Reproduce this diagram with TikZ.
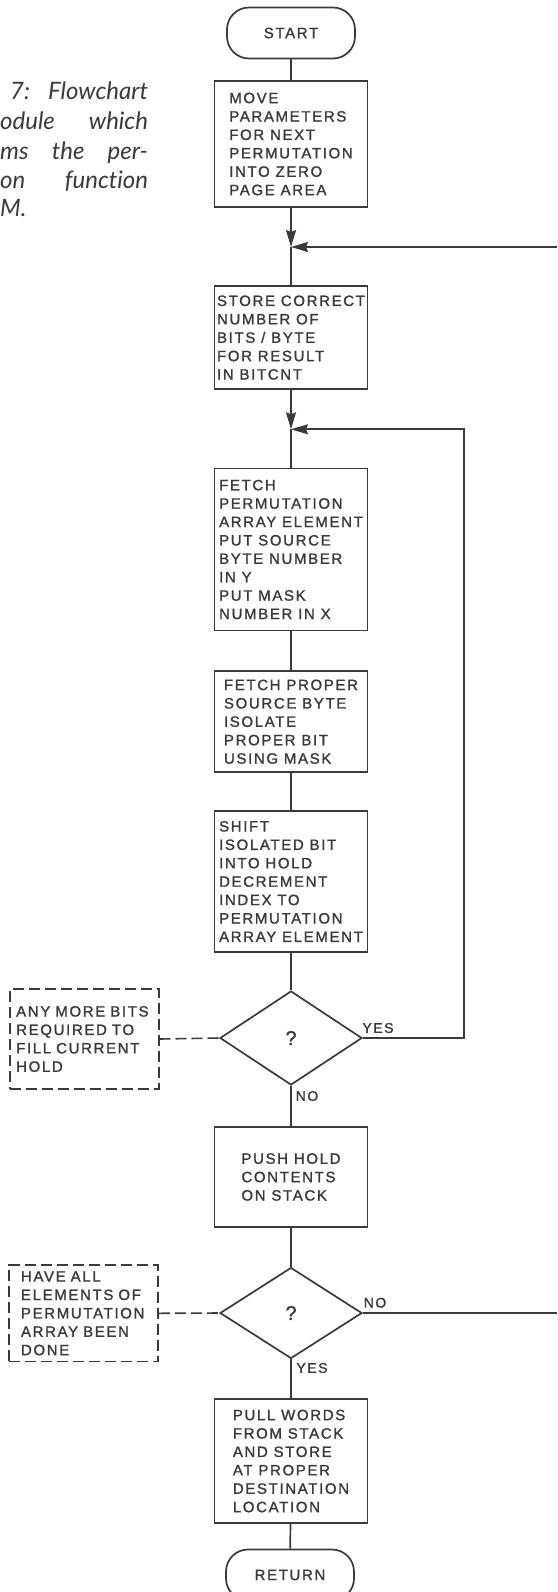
\documentclass[tikz,border=0pt]{standalone}
\usepackage{fontspec}
\newfontfamily\boxfont[LetterSpace=11,FakeBold=1.3]{Liberation Sans}
\newfontfamily\capfont[Ligatures=NoCommon]{Lato}
\usetikzlibrary{arrows.meta,shapes.geometric}
\definecolor{ink}{RGB}{58,58,58}
\begin{document}
\begin{tikzpicture}[x=1pt,y=-1pt,
  flow/.style={draw=ink,line width=1.7pt},
  arr/.style={flow,-{Stealth[length=17pt,width=10pt,inset=2pt]}},
  txt/.style={text=ink,font=\boxfont\fontsize{15}{18.4}\selectfont},
  proc/.style={txt,draw=ink,line width=1.7pt,minimum width=153pt,inner sep=0pt,align=left},
  term/.style={txt,draw=ink,line width=1.7pt,rounded corners=22pt,minimum width=128pt,minimum height=51pt,inner sep=0pt},
  dec/.style={txt,font=\boxfont\fontsize{20}{22}\selectfont,diamond,draw=ink,line width=1.7pt,minimum width=142pt,minimum height=93pt,inner sep=0pt},
  note/.style={txt,draw=ink,line width=1.6pt,dash pattern=on 11pt off 5pt,align=left,inner ysep=0pt},
  lbl/.style={txt,font=\boxfont\fontsize{14}{16}\selectfont,inner sep=0pt},
  captxt/.style={text=ink,font=\capfont\itshape\fontsize{24}{29}\selectfont,inner sep=0pt}
]
\useasboundingbox[fill=white] (0,0) rectangle (557,1592);

% caption (cropped)
\node[captxt,anchor=base west] (c1a) at (10,100) {7:};
\node[captxt,anchor=base east] (c1b) at (148.3,100) {Flowchart};
\node[captxt,anchor=base west] (c2a) at (0,129.3) {odule};
\node[captxt,anchor=base east] (c2b) at (148.3,129.3) {which};
\node[captxt,anchor=base west] (c3a) at (0,159.3) {ms};
\node[captxt,anchor=base west] (c3b) at (51.7,159.3) {the};
\node[captxt,anchor=base east] (c3c) at (148.3,159.3) {per-};
\node[captxt,anchor=base west] (c4a) at (0,188.3) {on};
\node[captxt,anchor=base east] (c4b) at (148.3,188.3) {function};
\node[captxt,anchor=base west] (c5a) at (0,216.7) {M.};

% main column
\node[term] (start) at (291,33) {START};
\node[proc,minimum height=126pt] (b1) at (291,144) {MOVE\\PARAMETERS\\FOR NEXT\\PERMUTATION\\INTO ZERO\\PAGE AREA};
\coordinate (m1) at (291,247);
\node[proc,minimum height=103pt] (b2) at (291,337.6) {STORE CORRECT\\NUMBER OF\\BITS / BYTE\\FOR RESULT\\IN BITCNT};
\coordinate (m2) at (291,429.3);
\node[proc,minimum height=162pt] (b3) at (291,549.5) {FETCH\\PERMUTATION\\ARRAY ELEMENT\\PUT SOURCE\\BYTE NUMBER\\IN Y\\PUT MASK\\NUMBER IN X};
\node[proc,minimum height=101pt] (b4) at (291,721.7) {FETCH PROPER\\SOURCE BYTE\\ISOLATE\\PROPER BIT\\USING MASK};
\node[proc,minimum height=141.6pt] (b5) at (291,881.5) {SHIFT\\ISOLATED BIT\\INTO HOLD\\DECREMENT\\INDEX TO\\PERMUTATION\\ARRAY ELEMENT};
\node[dec,minimum height=94pt] (q1) at (291,1038) {?};
\node[proc,minimum height=100.6pt] (b6) at (291,1177) {PUSH HOLD\\CONTENTS\\ON STACK};
\node[dec,minimum height=91pt] (q2) at (291,1313) {?};
\node[proc,minimum height=123.7pt] (b7) at (291,1461) {PULL WORDS\\FROM STACK\\AND STORE\\AT PROPER\\DESTINATION\\LOCATION};
\node[term] (ret) at (290,1575) {RETURN};

% annotations
\node[note,inner xsep=6.5pt,text width=136pt,minimum height=100pt] (n1) at (84.2,1039) {ANY MORE BITS\\REQUIRED TO\\FILL CURRENT\\HOLD};
\node[note,inner xsep=12pt,text width=125pt,minimum height=96.7pt] (n2) at (83.5,1313.3) {HAVE ALL\\ELEMENTS OF\\PERMUTATION\\ARRAY BEEN\\DONE};

% right-hand loop points
\coordinate (r1) at (464,1038);
\coordinate (r2) at (464,429.3);
\coordinate (e1) at (557,1313);
\coordinate (e2) at (557,247);

% connectors
\draw[flow] (start) -- (b1);
\draw[arr] (b1) -- (m1);
\draw[arr] (e2) -- (m1);
\draw[flow] (m1) -- (b2);
\draw[arr] (b2) -- (m2);
\draw[flow] (m2) -- (b3);
\draw[flow] (b3) -- (b4);
\draw[flow] (b4) -- (b5);
\draw[flow] (b5) -- (q1);
\draw[arr] (q1.east) -- (r1) -- (r2) -- (m2);
\draw[flow] (q1) -- (b6);
\draw[flow] (b6) -- (q2);
\draw[flow] (q2.east) -- (e1);
\draw[flow] (q2) -- (b7);
\draw[flow] (b7) -- (ret);
\draw[flow,dash pattern=on 11pt off 5pt,line width=1.6pt] (n1.east) -- (q1.west);
\draw[flow,dash pattern=on 11pt off 5pt,line width=1.6pt] (n2.east) -- (q2.west);

% branch labels
\node[lbl] (y1) at (378,1028) {YES};
\node[lbl] (no1) at (307,1096) {NO};
\node[lbl] (no2) at (375,1302.7) {NO};
\node[lbl] (y2) at (312,1368) {YES};
\end{tikzpicture}
\end{document}
